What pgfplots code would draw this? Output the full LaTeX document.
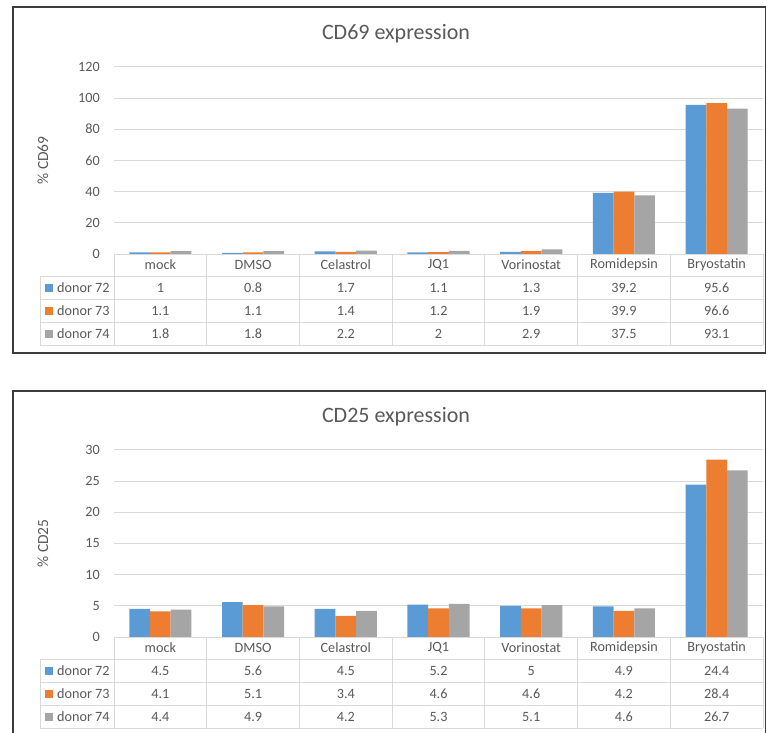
\documentclass[border=0pt]{standalone}
\usepackage{pgfplots}
\usepackage{pgfplotstable}
\pgfplotsset{compat=1.18}
\usepackage{fontspec}
\setmainfont{Carlito}
\definecolor{xblue}{HTML}{5B9BD5}
\definecolor{xorange}{HTML}{ED7D31}
\definecolor{xgray}{HTML}{A5A5A5}
\definecolor{txt}{HTML}{595959}
\definecolor{gridc}{HTML}{D9D9D9}
\definecolor{framec}{HTML}{3C3C3C}

\pgfplotstableread{
x d72 d73 d74
0 1 1.1 1.8
1 0.8 1.1 1.8
2 1.7 1.4 2.2
3 1.1 1.2 2
4 1.3 1.9 2.9
5 39.2 39.9 37.5
6 95.6 96.6 93.1
}\tabA
\pgfplotstableread{
x d72 d73 d74
0 4.5 4.1 4.4
1 5.6 5.1 4.9
2 4.5 3.4 4.2
3 5.2 4.6 5.3
4 5 4.6 5.1
5 4.9 4.2 4.6
6 24.4 28.4 26.7
}\tabB

\newcommand\tfont{\fontsize{14.2}{17}\selectfont}

\pgfplotsset{excel/.style={
  scale only axis, width=649pt, height=187.3pt,
  xmin=-0.5, xmax=6.5, ymin=0,
  xtick=\empty, axis line style={draw=none}, major tick length=0pt,
  ymajorgrids, grid style={gridc, line width=0.8pt},
  ybar=0pt, bar width=20.7pt,
  /pgf/number format/assume math mode=true,
  yticklabel style={font=\tfont, text=txt, inner sep=0pt, xshift=-14pt},
  every axis y label/.style={at={(rel axis cs:0,0.5)}, xshift=-71pt, rotate=90, anchor=center,
     font=\fontsize{15.5}{18}\selectfont, text=txt},
  clip=false,
}}

\newcommand\datatable[2]{%
 \begin{scope}[yshift=-#1pt, x=1pt, y=1pt]
  \draw[gridc,line width=0.8pt] (114,0) -- (763,0);
  \foreach \r in {22,45,68,91} \draw[gridc,line width=0.8pt] (40,-\r) -- (763,-\r);
  \draw[gridc,line width=0.8pt] (40,-22) -- (40,-91);
  \foreach \k in {0,...,7} \draw[gridc,line width=0.8pt] ({114+92.714*\k},0) -- ({114+92.714*\k},-91);
  \foreach \k/\name in {0/mock,1/DMSO,2/Celastrol,3/JQ1,4/Vorinostat,5/Romidepsin,6/Bryostatin}
    \node[font=\tfont, text=txt] at ({114+92.714*(\k+0.5)},-11) {\name};
  \foreach \k in {0,...,6} {
    \pgfplotstablegetelem{\k}{d72}\of#2
    \node[font=\tfont, text=txt] at ({114+92.714*(\k+0.5)},-33.5) {\pgfplotsretval};
    \pgfplotstablegetelem{\k}{d73}\of#2
    \node[font=\tfont, text=txt] at ({114+92.714*(\k+0.5)},-56.5) {\pgfplotsretval};
    \pgfplotstablegetelem{\k}{d74}\of#2
    \node[font=\tfont, text=txt] at ({114+92.714*(\k+0.5)},-79.5) {\pgfplotsretval};
  }
  \foreach \c/\n/\y in {xblue/72/33.5, xorange/73/56.5, xgray/74/79.5} {
    \fill[\c] (45,-\y+4) rectangle (53,-\y-4);
    \node[font=\tfont, text=txt, anchor=west, inner sep=0pt] at (57,-\y) {donor \n};
  }
 \end{scope}}

\begin{document}
\begin{tikzpicture}
\path[use as bounding box] (0,0) rectangle (767pt,-732pt);
\draw[framec, line width=1.5pt] (13pt,-7pt) rectangle (765.5pt,-353pt);
\draw[framec, line width=1.5pt] (13pt,-740pt) -- (13pt,-391pt) -- (765.5pt,-391pt) -- (765.5pt,-740pt);

\node[font=\fontsize{22}{26}\selectfont, text=txt] at (396pt,-34pt) {CD69 expression};
\begin{axis}[excel, at={(114pt,-254pt)}, anchor=south west,
  ymax=120, ytick={0,20,...,120}, ylabel={\% CD69}]
\addplot[fill=xblue, draw=none] table[x=x,y=d72]{\tabA};
\addplot[fill=xorange, draw=none] table[x=x,y=d73]{\tabA};
\addplot[fill=xgray, draw=none] table[x=x,y=d74]{\tabA};
\end{axis}
\datatable{254}{\tabA}

\node[font=\fontsize{22}{26}\selectfont, text=txt] at (396pt,-417pt) {CD25 expression};
\begin{axis}[excel, at={(114pt,-637pt)}, anchor=south west,
  ymax=30, ytick={0,5,...,30}, ylabel={\% CD25}]
\addplot[fill=xblue, draw=none] table[x=x,y=d72]{\tabB};
\addplot[fill=xorange, draw=none] table[x=x,y=d73]{\tabB};
\addplot[fill=xgray, draw=none] table[x=x,y=d74]{\tabB};
\end{axis}
\datatable{637}{\tabB}
\end{tikzpicture}
\end{document}
